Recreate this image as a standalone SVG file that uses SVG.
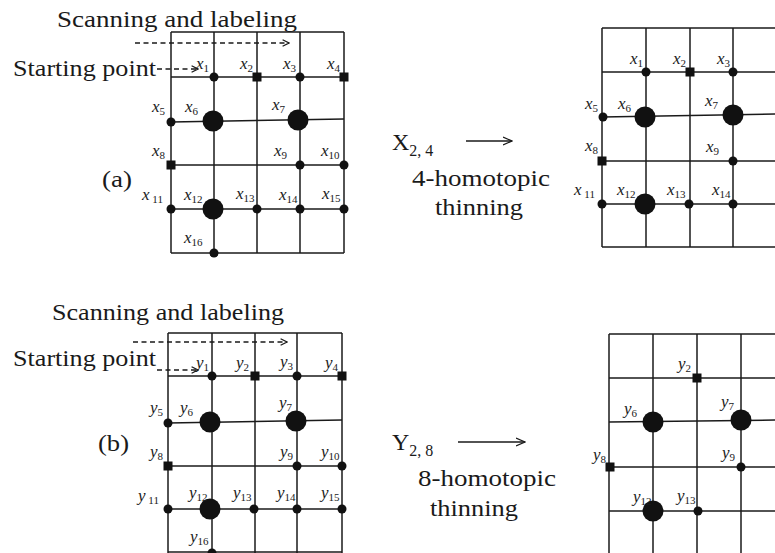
<svg xmlns="http://www.w3.org/2000/svg" width="775" height="553" viewBox="0 0 775 553">
<style>
.g{stroke:#1a1a1a;stroke-width:1.5;fill:none}
.d{stroke:#1a1a1a;stroke-width:1.4;fill:none;stroke-dasharray:5,3.5}
.t{font-family:"Liberation Serif","Times New Roman",serif;fill:#1a1a1a}
.big{font-size:23px}
.lb{font-family:"Liberation Serif","Times New Roman",serif;font-style:italic;font-size:17px;fill:#1a1a1a}
.sb{font-style:normal;font-size:11px}
.n{fill:#111}
</style>
<defs>
<marker id="ah" viewBox="0 0 10 10" refX="9" refY="5" markerWidth="8" markerHeight="8" markerUnits="userSpaceOnUse" orient="auto"><path d="M1,1 L9,5 L1,9" fill="none" stroke="#1a1a1a" stroke-width="1.6"/></marker>
<marker id="ah2" viewBox="0 0 10 10" refX="9" refY="5" markerWidth="10" markerHeight="10" markerUnits="userSpaceOnUse" orient="auto"><path d="M0,1 L9,5 L0,9" fill="none" stroke="#1a1a1a" stroke-width="1.2"/></marker>
</defs>
<rect width="775" height="553" fill="#fff"/>

<g id="grid-a-left" class="g">
<line x1="171" y1="32" x2="344" y2="32"/>
<line x1="171" y1="77" x2="344" y2="77"/>
<line x1="171" y1="122" x2="344" y2="119"/>
<line x1="171" y1="165" x2="344" y2="165"/>
<line x1="171" y1="209" x2="344" y2="209"/>
<line x1="171" y1="253" x2="344" y2="253"/>
<line x1="171" y1="32" x2="171" y2="253"/>
<line x1="214" y1="32" x2="214" y2="253"/>
<line x1="257" y1="32" x2="257" y2="253"/>
<line x1="300" y1="32" x2="300" y2="253"/>
<line x1="344" y1="32" x2="344" y2="253"/>
</g>
<g id="grid-a-right" class="g">
<line x1="602" y1="28" x2="775" y2="28"/>
<line x1="602" y1="72" x2="775" y2="72"/>
<line x1="602" y1="117" x2="775" y2="114"/>
<line x1="602" y1="161" x2="775" y2="161"/>
<line x1="602" y1="204" x2="775" y2="204"/>
<line x1="602" y1="247" x2="775" y2="247"/>
<line x1="602" y1="28" x2="602" y2="247"/>
<line x1="646" y1="28" x2="646" y2="247"/>
<line x1="690" y1="28" x2="690" y2="247"/>
<line x1="733" y1="28" x2="733" y2="247"/>
</g>
<g id="grid-b-left" class="g">
<line x1="168" y1="333" x2="342" y2="333"/>
<line x1="168" y1="376" x2="342" y2="376"/>
<line x1="168" y1="423" x2="342" y2="420"/>
<line x1="168" y1="466" x2="342" y2="466"/>
<line x1="168" y1="509" x2="342" y2="509"/>
<line x1="168" y1="552" x2="342" y2="552"/>
<line x1="168" y1="333" x2="168" y2="553"/>
<line x1="212" y1="333" x2="212" y2="553"/>
<line x1="255" y1="333" x2="255" y2="553"/>
<line x1="297" y1="333" x2="297" y2="553"/>
<line x1="342" y1="333" x2="342" y2="553"/>
</g>
<g id="grid-b-right" class="g">
<line x1="609" y1="334" x2="775" y2="334"/>
<line x1="609" y1="378" x2="775" y2="378"/>
<line x1="609" y1="422" x2="775" y2="420"/>
<line x1="609" y1="467" x2="775" y2="467"/>
<line x1="609" y1="511" x2="775" y2="511"/>
<line x1="609" y1="334" x2="609" y2="553"/>
<line x1="653" y1="334" x2="653" y2="553"/>
<line x1="697" y1="334" x2="697" y2="553"/>
<line x1="741" y1="334" x2="741" y2="553"/>
</g>

<g id="connectors">
<line class="d" x1="135" y1="43" x2="289" y2="43" marker-end="url(#ah)"/>
<line class="d" x1="157" y1="69" x2="198" y2="69" marker-end="url(#ah)"/>
<line class="d" x1="133" y1="342" x2="287" y2="342" marker-end="url(#ah)"/>
<line class="d" x1="157" y1="370" x2="198" y2="370" marker-end="url(#ah)"/>
<line class="g" x1="466" y1="141" x2="512" y2="141" stroke-width="1.2" marker-end="url(#ah2)"/>
<line class="g" x1="458" y1="442" x2="525" y2="442" stroke-width="1.2" marker-end="url(#ah2)"/>
</g>

<g id="texts">
<text class="t big" x="57" y="27" textLength="240" lengthAdjust="spacingAndGlyphs">Scanning and labeling</text>
<text class="t big" x="13" y="76" textLength="143" lengthAdjust="spacingAndGlyphs">Starting point</text>
<text class="t big" x="102" y="187" textLength="30" lengthAdjust="spacingAndGlyphs">(a)</text>
<text class="t" x="392" y="150" font-size="24">X<tspan font-size="16" dy="6">2, 4</tspan></text>
<text class="t big" x="412" y="186" textLength="138" lengthAdjust="spacingAndGlyphs">4-homotopic</text>
<text class="t big" x="435" y="215" textLength="88" lengthAdjust="spacingAndGlyphs">thinning</text>
<text class="t big" x="52" y="320" textLength="232" lengthAdjust="spacingAndGlyphs">Scanning and labeling</text>
<text class="t big" x="13" y="366" textLength="143" lengthAdjust="spacingAndGlyphs">Starting point</text>
<text class="t big" x="98" y="451" textLength="31" lengthAdjust="spacingAndGlyphs">(b)</text>
<text class="t" x="392" y="450" font-size="24">Y<tspan font-size="16" dy="6">2, 8</tspan></text>
<text class="t big" x="418" y="486" textLength="138" lengthAdjust="spacingAndGlyphs">8-homotopic</text>
<text class="t big" x="430" y="516" textLength="88" lengthAdjust="spacingAndGlyphs">thinning</text>
</g>

<g id="a-x1"><circle class="n" cx="214" cy="77" r="4.5"/><text class="lb" x="196" y="69">x<tspan class="sb" dy="3">1</tspan></text></g>
<g id="a-x2"><rect class="n" x="252.5" y="72.5" width="9" height="9"/><text class="lb" x="240" y="69">x<tspan class="sb" dy="3">2</tspan></text></g>
<g id="a-x3"><circle class="n" cx="300" cy="77" r="4.5"/><text class="lb" x="283" y="69">x<tspan class="sb" dy="3">3</tspan></text></g>
<g id="a-x4"><rect class="n" x="339.5" y="72.5" width="9" height="9"/><text class="lb" x="327" y="69">x<tspan class="sb" dy="3">4</tspan></text></g>
<g id="a-x5"><circle class="n" cx="171" cy="122" r="4.5"/><text class="lb" x="152" y="112">x<tspan class="sb" dy="3">5</tspan></text></g>
<g id="a-x6"><circle class="n" cx="213" cy="121" r="10.5"/><text class="lb" x="185" y="112">x<tspan class="sb" dy="3">6</tspan></text></g>
<g id="a-x7"><circle class="n" cx="298" cy="120" r="10.5"/><text class="lb" x="272" y="110">x<tspan class="sb" dy="3">7</tspan></text></g>
<g id="a-x8"><rect class="n" x="166.5" y="160.5" width="9" height="9"/><text class="lb" x="152" y="156">x<tspan class="sb" dy="3">8</tspan></text></g>
<g id="a-x9"><circle class="n" cx="300" cy="165" r="4.5"/><text class="lb" x="274" y="156">x<tspan class="sb" dy="3">9</tspan></text></g>
<g id="a-x10"><circle class="n" cx="344" cy="165" r="4.5"/><text class="lb" x="321" y="156">x<tspan class="sb" dy="3">10</tspan></text></g>
<g id="a-x11"><circle class="n" cx="171" cy="209" r="4.5"/><text class="lb" x="142" y="200">x<tspan class="sb" dy="3"> 11</tspan></text></g>
<g id="a-x12"><circle class="n" cx="213" cy="209" r="10.5"/><text class="lb" x="184" y="200">x<tspan class="sb" dy="3">12</tspan></text></g>
<g id="a-x13"><circle class="n" cx="257" cy="209" r="4.5"/><text class="lb" x="236" y="199">x<tspan class="sb" dy="3">13</tspan></text></g>
<g id="a-x14"><circle class="n" cx="300" cy="209" r="4.5"/><text class="lb" x="279" y="200">x<tspan class="sb" dy="3">14</tspan></text></g>
<g id="a-x15"><circle class="n" cx="344" cy="209" r="4.5"/><text class="lb" x="322" y="199">x<tspan class="sb" dy="3">15</tspan></text></g>
<g id="a-x16"><circle class="n" cx="214" cy="253" r="4.5"/><text class="lb" x="184" y="243">x<tspan class="sb" dy="3">16</tspan></text></g>

<g id="ar-x1"><circle class="n" cx="646" cy="72" r="4.5"/><text class="lb" x="630" y="64">x<tspan class="sb" dy="3">1</tspan></text></g>
<g id="ar-x2"><rect class="n" x="685.5" y="67.5" width="9" height="9"/><text class="lb" x="673" y="64">x<tspan class="sb" dy="3">2</tspan></text></g>
<g id="ar-x3"><circle class="n" cx="733" cy="72" r="4.5"/><text class="lb" x="717" y="64">x<tspan class="sb" dy="3">3</tspan></text></g>
<g id="ar-x5"><circle class="n" cx="603" cy="117" r="4.5"/><text class="lb" x="585" y="109">x<tspan class="sb" dy="3">5</tspan></text></g>
<g id="ar-x6"><circle class="n" cx="645" cy="117" r="10.5"/><text class="lb" x="618" y="109">x<tspan class="sb" dy="3">6</tspan></text></g>
<g id="ar-x7"><circle class="n" cx="733" cy="115" r="10.5"/><text class="lb" x="705" y="106">x<tspan class="sb" dy="3">7</tspan></text></g>
<g id="ar-x8"><rect class="n" x="597.5" y="156.5" width="9" height="9"/><text class="lb" x="585" y="151">x<tspan class="sb" dy="3">8</tspan></text></g>
<g id="ar-x9"><circle class="n" cx="733" cy="161" r="4.5"/><text class="lb" x="706" y="152">x<tspan class="sb" dy="3">9</tspan></text></g>
<g id="ar-x11"><circle class="n" cx="602" cy="204" r="4.5"/><text class="lb" x="574" y="195">x<tspan class="sb" dy="3"> 11</tspan></text></g>
<g id="ar-x12"><circle class="n" cx="645" cy="204" r="10.5"/><text class="lb" x="617" y="195">x<tspan class="sb" dy="3">12</tspan></text></g>
<g id="ar-x13"><circle class="n" cx="689" cy="204" r="4.5"/><text class="lb" x="667" y="195">x<tspan class="sb" dy="3">13</tspan></text></g>
<g id="ar-x14"><circle class="n" cx="733" cy="204" r="4.5"/><text class="lb" x="712" y="195">x<tspan class="sb" dy="3">14</tspan></text></g>

<g id="b-y1"><circle class="n" cx="212" cy="376" r="4.5"/><text class="lb" x="196" y="368">y<tspan class="sb" dy="3">1</tspan></text></g>
<g id="b-y2"><rect class="n" x="250.5" y="371.5" width="9" height="9"/><text class="lb" x="236" y="368">y<tspan class="sb" dy="3">2</tspan></text></g>
<g id="b-y3"><circle class="n" cx="297" cy="376" r="4.5"/><text class="lb" x="280" y="367">y<tspan class="sb" dy="3">3</tspan></text></g>
<g id="b-y4"><rect class="n" x="337.5" y="371.5" width="9" height="9"/><text class="lb" x="325" y="368">y<tspan class="sb" dy="3">4</tspan></text></g>
<g id="b-y5"><circle class="n" cx="168" cy="423" r="4.5"/><text class="lb" x="150" y="413">y<tspan class="sb" dy="3">5</tspan></text></g>
<g id="b-y6"><circle class="n" cx="210" cy="422" r="10.5"/><text class="lb" x="180" y="413">y<tspan class="sb" dy="3">6</tspan></text></g>
<g id="b-y7"><circle class="n" cx="296" cy="421" r="10.5"/><text class="lb" x="279" y="408">y<tspan class="sb" dy="3">7</tspan></text></g>
<g id="b-y8"><rect class="n" x="163.5" y="461.5" width="9" height="9"/><text class="lb" x="150" y="457">y<tspan class="sb" dy="3">8</tspan></text></g>
<g id="b-y9"><circle class="n" cx="297" cy="466" r="4.5"/><text class="lb" x="280" y="457">y<tspan class="sb" dy="3">9</tspan></text></g>
<g id="b-y10"><circle class="n" cx="342" cy="466" r="4.5"/><text class="lb" x="321" y="457">y<tspan class="sb" dy="3">10</tspan></text></g>
<g id="b-y11"><circle class="n" cx="168" cy="509" r="4.5"/><text class="lb" x="138" y="501">y<tspan class="sb" dy="3"> 11</tspan></text></g>
<g id="b-y12"><circle class="n" cx="210" cy="509" r="10.5"/><text class="lb" x="189" y="498">y<tspan class="sb" dy="3">12</tspan></text></g>
<g id="b-y13"><circle class="n" cx="254" cy="509" r="4.5"/><text class="lb" x="233" y="498">y<tspan class="sb" dy="3">13</tspan></text></g>
<g id="b-y14"><circle class="n" cx="297" cy="509" r="4.5"/><text class="lb" x="277" y="498">y<tspan class="sb" dy="3">14</tspan></text></g>
<g id="b-y15"><circle class="n" cx="342" cy="509" r="4.5"/><text class="lb" x="321" y="498">y<tspan class="sb" dy="3">15</tspan></text></g>
<g id="b-y16"><circle class="n" cx="212" cy="553" r="4.5"/><text class="lb" x="190" y="542">y<tspan class="sb" dy="3">16</tspan></text></g>

<g id="br-y2"><rect class="n" x="692.5" y="373.5" width="9" height="9"/><text class="lb" x="678" y="369">y<tspan class="sb" dy="3">2</tspan></text></g>
<g id="br-y6"><circle class="n" cx="653" cy="422" r="10.5"/><text class="lb" x="624" y="414">y<tspan class="sb" dy="3">6</tspan></text></g>
<g id="br-y7"><circle class="n" cx="741" cy="420" r="10.5"/><text class="lb" x="721" y="407">y<tspan class="sb" dy="3">7</tspan></text></g>
<g id="br-y8"><rect class="n" x="605.5" y="462.5" width="9" height="9"/><text class="lb" x="593" y="460">y<tspan class="sb" dy="3">8</tspan></text></g>
<g id="br-y9"><circle class="n" cx="741" cy="467" r="4.5"/><text class="lb" x="722" y="458">y<tspan class="sb" dy="3">9</tspan></text></g>
<g id="br-y12"><circle class="n" cx="653" cy="511" r="10.5"/><text class="lb" x="633" y="502">y<tspan class="sb" dy="3">12</tspan></text></g>
<g id="br-y13"><circle class="n" cx="698" cy="511" r="4.5"/><text class="lb" x="677" y="501">y<tspan class="sb" dy="3">13</tspan></text></g>
</svg>
